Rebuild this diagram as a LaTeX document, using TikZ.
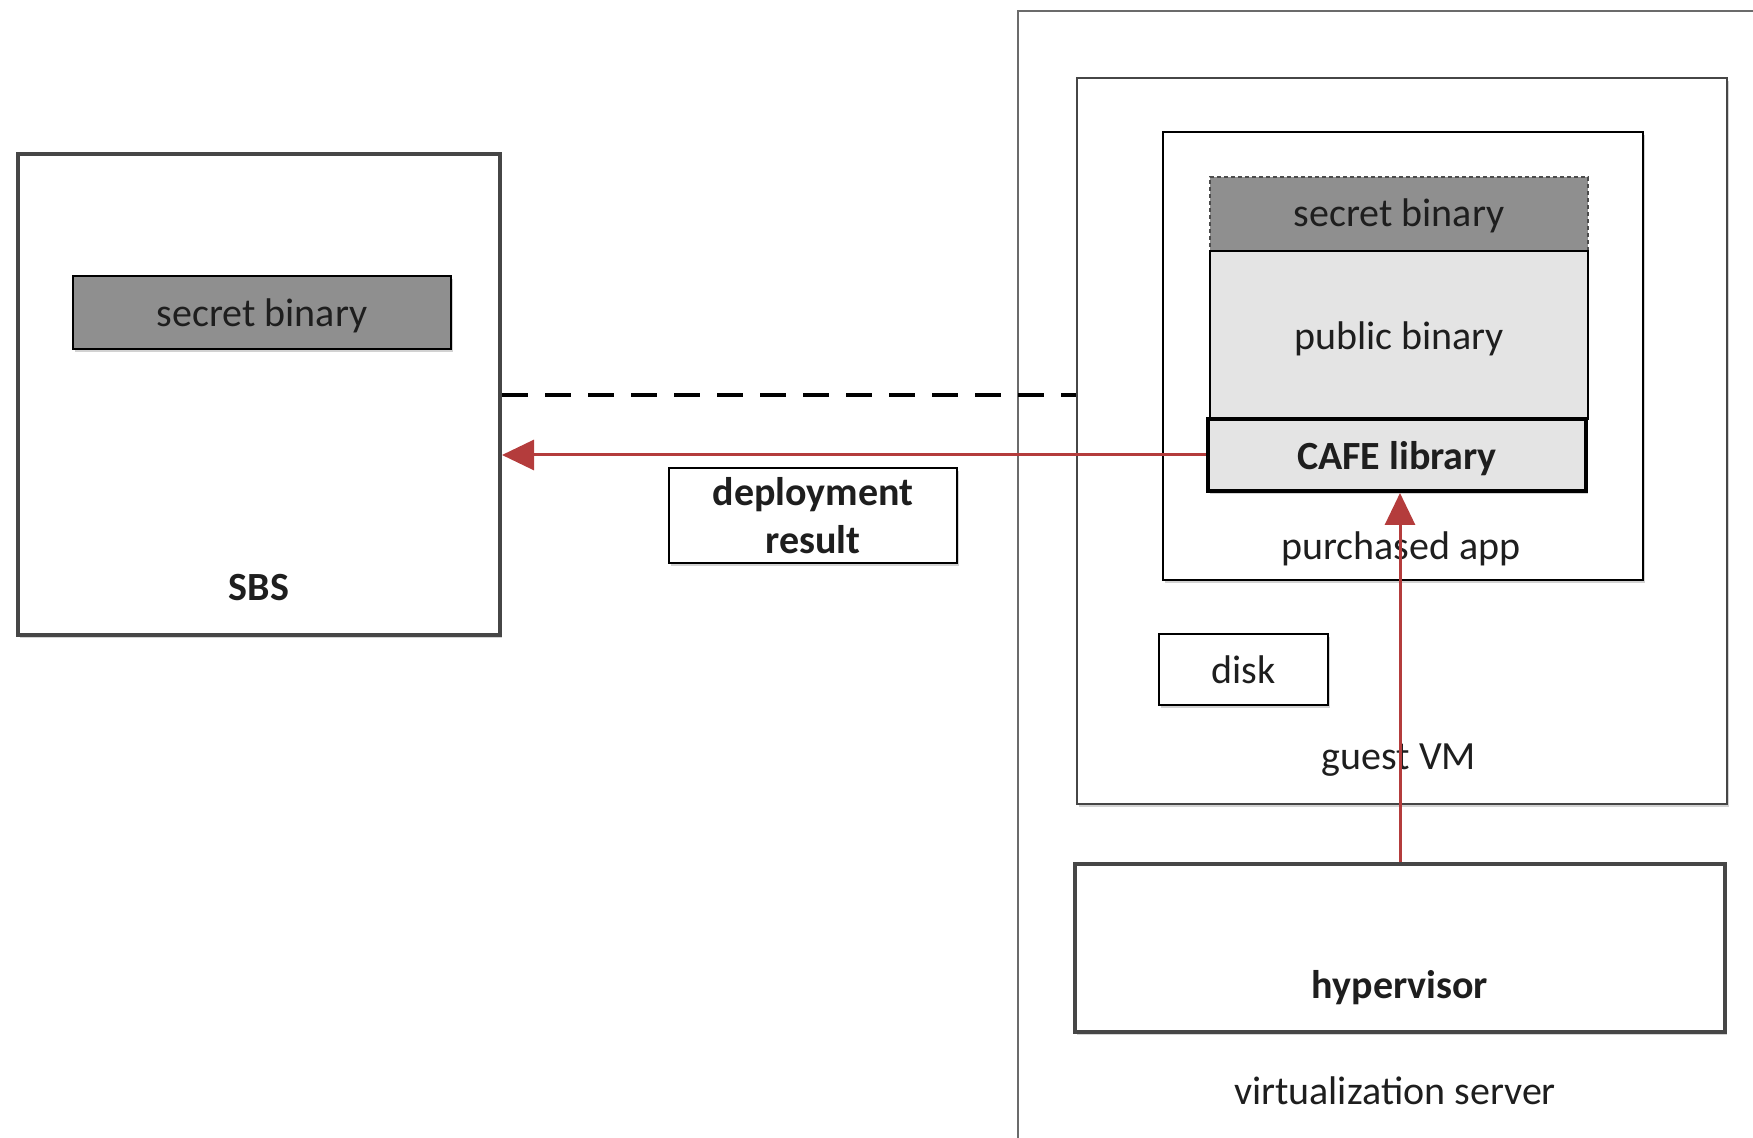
\documentclass[tikz,border=0pt]{standalone}
\usepackage{fontspec}
\setmainfont{Carlito}
\usetikzlibrary{arrows.meta,shadows}
\definecolor{darkfill}{HTML}{8F8F8F}
\definecolor{lightfill}{HTML}{E4E4E4}
\definecolor{arrowred}{HTML}{B43C3C}
\definecolor{edgegray}{HTML}{464646}
\definecolor{txt}{HTML}{1E1E1E}
\begin{document}
\begin{tikzpicture}[x=0.5pt,y=-0.5pt,
  every node/.style={font=\fontsize{20}{24}\selectfont, text=txt, inner sep=0pt},
  shad/.style={drop shadow={shadow xshift=0.8pt,shadow yshift=-1.4pt,opacity=0.35}},
  box/.style={draw=black, fill=white, line width=1.2pt, shad},
  thickbox/.style={draw=edgegray, fill=white, line width=2pt, shad},
  servline/.style={draw=edgegray!80, line width=1pt},
  redarrow/.style={draw=arrowred, line width=1.5pt, -{Triangle[length=16pt,width=15pt]}},
  dashconn/.style={draw=black, line width=2pt, dash pattern=on 13pt off 8.5pt},
  lbl/.style={font=\fontsize{20}{24}\selectfont},
  blbl/.style={font=\fontsize{20}{24}\selectfont\bfseries}
]
\useasboundingbox (0,0) rectangle (1753,1138);

% virtualization server (extends beyond picture)
\draw[servline] (1018,1138) -- (1018,11) -- (1753,11);
\node[lbl] (servlabel) at (1395,1091) {virtualization server};

% guest VM
\node[box, draw=edgegray, line width=1.2pt, minimum width=325pt, minimum height=363pt] (vm) at (1402,441) {};
\node[lbl] (vmlabel) at (1399,760) {guest VM};

% purchased app
\node[box, minimum width=240pt, minimum height=224pt] (app) at (1403,356) {};
\node[lbl] (applabel) at (1401,549) {purchased app};

% secret binary (dashed, in app)
\node[draw=black!70, fill=darkfill, line width=0.8pt, dash pattern=on 2pt off 1.5pt,
      minimum width=189pt, minimum height=37pt] (sec2) at (1399,214) {};
\node[lbl] (sec2text) at (1399,216) {secret binary};
% public binary
\node[draw=black, fill=lightfill, line width=1.2pt,
      minimum width=189pt, minimum height=84pt] (pub) at (1399,335) {};
\node[lbl] (pubtext) at (1399,339) {public binary};
% CAFE library
\node[draw=black, fill=lightfill, line width=2pt, shad,
      minimum width=189pt, minimum height=36pt] (cafe) at (1397,455) {};
\node[blbl] (cafetext) at (1397,459) {CAFE library};

% disk
\node[box, minimum width=84.5pt, minimum height=35.5pt, lbl] (disk) at (1243.5,669.5) {disk};

% hypervisor
\node[thickbox, minimum width=325pt, minimum height=84pt] (hyp) at (1400,948) {};
\node[blbl] (hyplabel) at (1400,988) {hypervisor};

% SBS
\node[thickbox, minimum width=241pt, minimum height=240.5pt] (sbs) at (259,394.5) {};
\node[blbl] (sbslabel) at (259,588) {SBS};
\node[box, fill=darkfill, minimum width=189pt, minimum height=36.5pt] (sec1) at (262,312.5) {};
\node[lbl] (sec1text) at (262,316) {secret binary};

% deployment result
\node[box, minimum width=144pt, minimum height=47.5pt, blbl, align=center] (dep) at (813,515.5) {deployment\\result};

% connectors
\coordinate (dashy) at (0,395);
\draw[dashconn] (sbs.east |- dashy) -- (vm.west |- dashy);
\draw[redarrow] (cafe.west) -- (sbs.east |- cafe.west);
\draw[redarrow] (hyp.north) -- (hyp.north |- cafe.south);
\end{tikzpicture}
\end{document}
